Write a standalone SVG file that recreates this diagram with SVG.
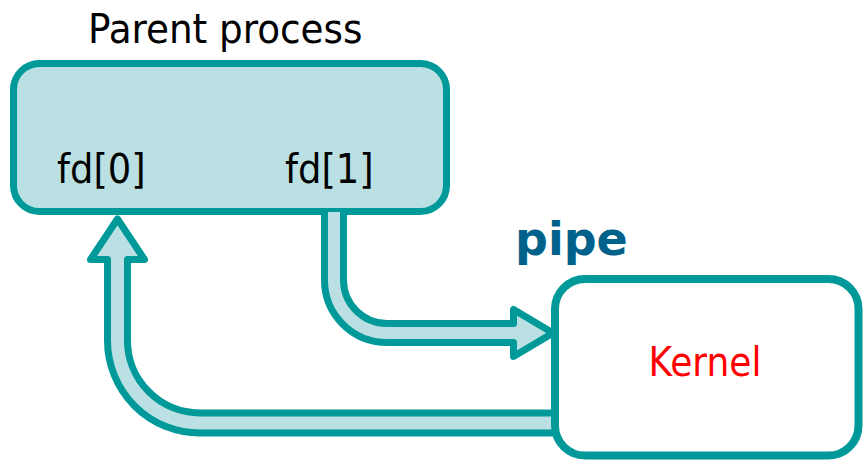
<svg xmlns="http://www.w3.org/2000/svg" width="863" height="460" viewBox="0 0 863 460">
<style>
.box{fill:#bbe0e3;stroke:#009999;stroke-width:7}
.kbox{fill:#ffffff;stroke:#009999;stroke-width:8}
.arrow{fill:#bbe0e3;stroke:#009999;stroke-width:7;stroke-linejoin:round}
.t{font-family:'DejaVu Sans Condensed','Liberation Sans',sans-serif;font-stretch:condensed}
</style>
<rect width="863" height="460" fill="#ffffff"/>
<g id="parent">
<text class="t" x="88" y="43" font-size="41.5" fill="#000000">Parent process</text>
<rect class="box" x="13.5" y="63.5" width="433" height="148" rx="26"/>
<text class="t" x="57" y="183" font-size="41" fill="#000000">fd[0]</text>
<text class="t" x="285" y="183" font-size="41" fill="#000000">fd[1]</text>
</g>
<g id="connectors">
<path class="arrow" d="M 324.5 212 L 324.5 280 A 62.5 62.5 0 0 0 387 342.5 L 513.5 342.5 L 513.5 356.5 L 553 333 L 513.5 309.5 L 513.5 323.5 L 387 323.5 A 43.5 43.5 0 0 1 343.5 280 L 343.5 212"/>
<path class="arrow" d="M 556 433 L 200 433 A 92.5 92.5 0 0 1 107.5 340.5 L 107.5 259.5 L 90.5 259.5 L 117.5 219 L 144.5 259.5 L 127.5 259.5 L 127.5 340 A 72.5 72.5 0 0 0 200 413 L 556 413"/>
</g>
<g id="kernel">
<rect class="kbox" x="555" y="279" width="303.5" height="176.5" rx="30"/>
<text class="t" x="705" y="376" font-size="40" fill="#ff0000" text-anchor="middle">Kernel</text>
</g>
<g id="pipe">
<text x="515" y="255" font-family="'DejaVu Sans','Liberation Sans',sans-serif" font-weight="bold" font-size="46" fill="#00618a">pipe</text>
</g>
</svg>
